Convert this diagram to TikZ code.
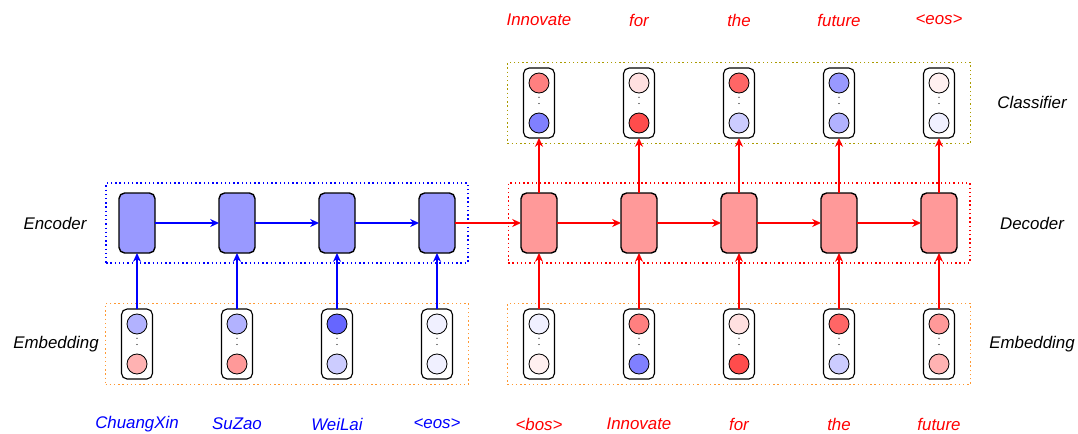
\documentclass[tikz,border=0pt]{standalone}
\usepackage{fontspec}
\setmainfont{Liberation Sans}
\usepackage{tikz}
\usetikzlibrary{arrows.meta, positioning, fit, backgrounds}
\definecolor{embedorange}{RGB}{255, 153, 51}
\definecolor{clsolive}{RGB}{170, 155, 0}
\definecolor{cellblue}{RGB}{153, 153, 255}
\definecolor{cellred}{RGB}{255, 153, 153}

\begin{document}
\begin{tikzpicture}[
    node distance=1.6cm,
    every node/.style={font=\large\itshape},
    enccell/.style={draw=black, fill=cellblue, rounded corners=4pt, minimum width=0.9cm, minimum height=1.5cm, line width=1pt, outer sep=0pt},
    deccell/.style={draw=black, fill=cellred, rounded corners=4pt, minimum width=0.9cm, minimum height=1.5cm, line width=1pt, outer sep=0pt},
    vecbox/.style={draw=black, fill=white, rounded corners=4pt, minimum width=0.775cm, minimum height=1.75cm, line width=0.8pt, outer sep=0pt},
    unit/.style={circle, draw=black, minimum size=0.5cm, inner sep=0pt, line width=0.6pt},
    dotcol/.style={draw=black, line width=0.9pt, line cap=round, dash pattern=on 0pt off 4.4pt, shorten <=2.7pt, shorten >=2.5pt},
    bluearr/.style={-{Stealth[length=2.2mm, width=2mm]}, line width=0.9pt, color=blue},
    redarr/.style={-{Stealth[length=2.2mm, width=2mm]}, line width=0.9pt, color=red},
    group/.style={dotted, line width=1pt, inner xsep=0.32cm, inner ysep=0.25cm}
]

% Background canvas
\useasboundingbox (0,0) rectangle (26.95,-10.85);

% Encoder cells
\node[enccell] (enc1) at (3.425,-5.575) {};
\node[enccell, right=of enc1] (enc2) {};
\node[enccell, right=of enc2] (enc3) {};
\node[enccell, right=of enc3] (enc4) {};

% Decoder cells
\node[deccell, right=1.65cm of enc4] (dec1) {};
\node[deccell, right=of dec1] (dec2) {};
\node[deccell, right=of dec2] (dec3) {};
\node[deccell, right=of dec3] (dec4) {};
\node[deccell, right=of dec4] (dec5) {};

% Encoder embeddings
\node[vecbox, below=1.4cm of enc1] (ve1) {};
\node[unit, fill=blue!30] (ve1t) at ([yshift=0.5cm]ve1.center) {};
\node[unit, fill=red!30] (ve1b) at ([yshift=-0.5cm]ve1.center) {};
\draw[dotcol] (ve1t) -- (ve1b);

\node[vecbox, below=1.4cm of enc2] (ve2) {};
\node[unit, fill=blue!30] (ve2t) at ([yshift=0.5cm]ve2.center) {};
\node[unit, fill=red!40] (ve2b) at ([yshift=-0.5cm]ve2.center) {};
\draw[dotcol] (ve2t) -- (ve2b);

\node[vecbox, below=1.4cm of enc3] (ve3) {};
\node[unit, fill=blue!60] (ve3t) at ([yshift=0.5cm]ve3.center) {};
\node[unit, fill=blue!20] (ve3b) at ([yshift=-0.5cm]ve3.center) {};
\draw[dotcol] (ve3t) -- (ve3b);

\node[vecbox, below=1.4cm of enc4] (ve4) {};
\node[unit, fill=blue!6] (ve4t) at ([yshift=0.5cm]ve4.center) {};
\node[unit, fill=blue!6] (ve4b) at ([yshift=-0.5cm]ve4.center) {};
\draw[dotcol] (ve4t) -- (ve4b);

% Decoder embeddings
\node[vecbox, below=1.4cm of dec1] (vd1) {};
\node[unit, fill=blue!6] (vd1t) at ([yshift=0.5cm]vd1.center) {};
\node[unit, fill=red!6] (vd1b) at ([yshift=-0.5cm]vd1.center) {};
\draw[dotcol] (vd1t) -- (vd1b);

\node[vecbox, below=1.4cm of dec2] (vd2) {};
\node[unit, fill=red!50] (vd2t) at ([yshift=0.5cm]vd2.center) {};
\node[unit, fill=blue!50] (vd2b) at ([yshift=-0.5cm]vd2.center) {};
\draw[dotcol] (vd2t) -- (vd2b);

\node[vecbox, below=1.4cm of dec3] (vd3) {};
\node[unit, fill=red!12] (vd3t) at ([yshift=0.5cm]vd3.center) {};
\node[unit, fill=red!70] (vd3b) at ([yshift=-0.5cm]vd3.center) {};
\draw[dotcol] (vd3t) -- (vd3b);

\node[vecbox, below=1.4cm of dec4] (vd4) {};
\node[unit, fill=red!60] (vd4t) at ([yshift=0.5cm]vd4.center) {};
\node[unit, fill=blue!20] (vd4b) at ([yshift=-0.5cm]vd4.center) {};
\draw[dotcol] (vd4t) -- (vd4b);

\node[vecbox, below=1.4cm of dec5] (vd5) {};
\node[unit, fill=red!40] (vd5t) at ([yshift=0.5cm]vd5.center) {};
\node[unit, fill=red!30] (vd5b) at ([yshift=-0.5cm]vd5.center) {};
\draw[dotcol] (vd5t) -- (vd5b);

% Classifier outputs
\node[vecbox, above=1.375cm of dec1] (vc1) {};
\node[unit, fill=red!50] (vc1t) at ([yshift=0.5cm]vc1.center) {};
\node[unit, fill=blue!50] (vc1b) at ([yshift=-0.5cm]vc1.center) {};
\draw[dotcol] (vc1t) -- (vc1b);

\node[vecbox, above=1.375cm of dec2] (vc2) {};
\node[unit, fill=red!12] (vc2t) at ([yshift=0.5cm]vc2.center) {};
\node[unit, fill=red!70] (vc2b) at ([yshift=-0.5cm]vc2.center) {};
\draw[dotcol] (vc2t) -- (vc2b);

\node[vecbox, above=1.375cm of dec3] (vc3) {};
\node[unit, fill=red!60] (vc3t) at ([yshift=0.5cm]vc3.center) {};
\node[unit, fill=blue!20] (vc3b) at ([yshift=-0.5cm]vc3.center) {};
\draw[dotcol] (vc3t) -- (vc3b);

\node[vecbox, above=1.375cm of dec4] (vc4) {};
\node[unit, fill=blue!40] (vc4t) at ([yshift=0.5cm]vc4.center) {};
\node[unit, fill=blue!30] (vc4b) at ([yshift=-0.5cm]vc4.center) {};
\draw[dotcol] (vc4t) -- (vc4b);

\node[vecbox, above=1.375cm of dec5] (vc5) {};
\node[unit, fill=red!6] (vc5t) at ([yshift=0.5cm]vc5.center) {};
\node[unit, fill=blue!6] (vc5b) at ([yshift=-0.5cm]vc5.center) {};
\draw[dotcol] (vc5t) -- (vc5b);

% Input words
\node[blue] (win1) at (ve1 |- 0,-10.6) {ChuangXin};
\node[blue] (win2) at (ve2 |- 0,-10.6) {SuZao};
\node[blue] (win3) at (ve3 |- 0,-10.6) {WeiLai};
\node[blue] (win4) at (ve4 |- 0,-10.6) {<eos>};
\node[red] (wdin1) at (vd1 |- 0,-10.6) {<bos>};
\node[red] (wdin2) at (vd2 |- 0,-10.6) {Innovate};
\node[red] (wdin3) at (vd3 |- 0,-10.6) {for};
\node[red] (wdin4) at (vd4 |- 0,-10.6) {the};
\node[red] (wdin5) at (vd5 |- 0,-10.6) {future};

% Output words
\node[red] (wout1) at (vc1 |- 0,-0.5) {Innovate};
\node[red] (wout2) at (vc2 |- 0,-0.5) {for};
\node[red] (wout3) at (vc3 |- 0,-0.5) {the};
\node[red] (wout4) at (vc4 |- 0,-0.5) {future};
\node[red] (wout5) at (vc5 |- 0,-0.5) {<eos>};

% Side labels
\node (lenc) at (1.375,-5.575) {Encoder};
\node (lembl) at (1.4,-8.6) {Embedding};
\node (lcls) at (25.8,-2.56) {Classifier};
\node (ldec) at (25.8,-5.575) {Decoder};
\node (lembr) at (25.8,-8.6) {Embedding};

% Encoder connections
\draw[bluearr] (ve1) -- (enc1);
\draw[bluearr] (ve2) -- (enc2);
\draw[bluearr] (ve3) -- (enc3);
\draw[bluearr] (ve4) -- (enc4);
\draw[bluearr] (enc1) -- (enc2);
\draw[bluearr] (enc2) -- (enc3);
\draw[bluearr] (enc3) -- (enc4);

% Encoder to decoder
\draw[redarr] (enc4) -- (dec1);

% Decoder connections
\draw[redarr] (vd1) -- (dec1);
\draw[redarr] (vd2) -- (dec2);
\draw[redarr] (vd3) -- (dec3);
\draw[redarr] (vd4) -- (dec4);
\draw[redarr] (vd5) -- (dec5);
\draw[redarr] (dec1) -- (dec2);
\draw[redarr] (dec2) -- (dec3);
\draw[redarr] (dec3) -- (dec4);
\draw[redarr] (dec4) -- (dec5);

% Decoder to classifier
\draw[redarr] (dec1) -- (vc1);
\draw[redarr] (dec2) -- (vc2);
\draw[redarr] (dec3) -- (vc3);
\draw[redarr] (dec4) -- (vc4);
\draw[redarr] (dec5) -- (vc5);

% Dotted groups
\begin{scope}[on background layer]
    \node[group, draw=blue, fit=(enc1)(enc4)] (gencoder) {};
    \node[group, draw=red, fit=(dec1)(dec5)] (gdecoder) {};
    \node[group, draw=embedorange, inner xsep=0.4cm, inner ysep=0.14cm, fit=(ve1)(ve4)] (gembenc) {};
    \node[group, draw=embedorange, inner xsep=0.4cm, inner ysep=0.14cm, fit=(vd1)(vd5)] (gembdec) {};
    \node[group, draw=clsolive, inner xsep=0.4cm, inner ysep=0.14cm, fit=(vc1)(vc5)] (gcls) {};
\end{scope}

\end{tikzpicture}
\end{document}
